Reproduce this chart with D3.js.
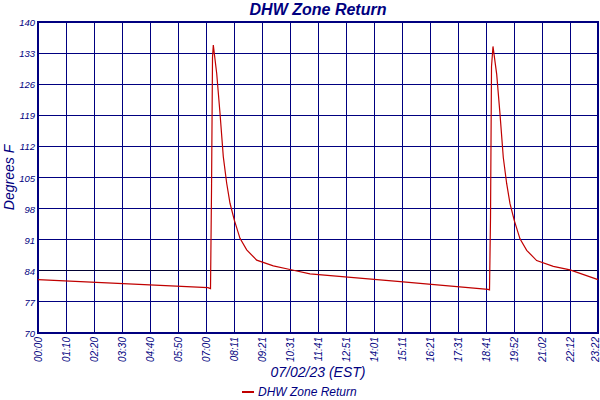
<!DOCTYPE html><html><head><meta charset="utf-8"><script src="https://cdn.jsdelivr.net/npm/d3@7"></script>
<style>body{margin:0;background:#fff}text{font-family:"Liberation Sans",Arial,sans-serif;font-style:italic;fill:#000080}</style></head><body><svg id="c" width="600" height="400"></svg><script>
const minutes=[0,425.6,431.9,434.4,436.9,438.9,447.4,455.7,463.9,472.4,480.7,491.5,505.7,522.5,547.5,589.1,630.9,680.9,900,1126.6,1130.4,1132.9,1135.4,1139.1,1148.4,1156.7,1164.9,1173.4,1181.7,1192.5,1206.7,1223.5,1248.5,1290.1,1331.9,1402];
const temps=[82.0,80.2,80.0,102,132,134.8,128.4,119.4,109.7,103.7,99.2,95.4,91.3,88.7,86.4,85.1,84.3,83.3,81.6,79.8,79.7,96,130,134.5,128.2,119.2,109.5,103.6,99.1,95.3,91.2,88.6,86.3,85.0,84.2,82.0];
const xLabels=["00:00","01:10","02:20","03:30","04:40","05:50","07:00","08:11","09:21","10:31","11:41","12:51","14:01","15:11","16:21","17:31","18:41","19:52","21:02","22:12","23:22"];
const yTicks=[70,77,84,91,98,105,112,119,126,133,140];
const L=38,R=598,T=22,B=333;
const svg=d3.select("#c");
const x=d3.scaleLinear().domain([0,1402]).range([L,R]);
const xi=d3.scaleLinear().domain([0,20]).range([L,R]);
const y=d3.scaleLinear().domain([70,140]).range([B,T]);
const g=svg.append("g").attr("shape-rendering","crispEdges");
xLabels.forEach((l,i)=>{g.append("line").attr("x1",xi(i)).attr("x2",xi(i)).attr("y1",T).attr("y2",B).attr("stroke","#000080").attr("stroke-width",1);
 g.append("text").attr("transform",`translate(${Math.min(xi(i)+4,599)},${B+4}) rotate(-90)`).attr("text-anchor","end").attr("font-size",10).text(l);});
yTicks.forEach(v=>{g.append("line").attr("x1",L).attr("x2",R).attr("y1",y(v)).attr("y2",y(v)).attr("stroke",v===84?"#000033":"#000080").attr("stroke-width",1);
 g.append("text").attr("x",L-3).attr("y",y(v)+4).attr("text-anchor","end").attr("font-size",9.5).text(v);});
g.append("rect").attr("x",L).attr("y",T).attr("width",R-L).attr("height",B-T).attr("fill","none").attr("stroke","#000080").attr("stroke-width",1.5);
const pts=minutes.map((m,i)=>[m,temps[i]]);
svg.append("path").datum(pts).attr("d",d3.line().x(d=>x(d[0])).y(d=>y(d[1]))).attr("fill","none").attr("stroke","#c00000").attr("stroke-width",1.2);
svg.append("text").attr("x",318).attr("y",15).attr("text-anchor","middle").attr("font-size",16).attr("font-weight","bold").text("DHW Zone Return");
svg.append("text").attr("transform",`translate(14,${(T+B)/2}) rotate(-90)`).attr("text-anchor","middle").attr("font-size",14).text("Degrees F");
svg.append("text").attr("x",318).attr("y",377).attr("text-anchor","middle").attr("font-size",14).text("07/02/23 (EST)");
svg.append("line").attr("x1",242).attr("x2",254).attr("y1",392).attr("y2",392).attr("stroke","#c00000").attr("stroke-width",2);
svg.append("text").attr("x",258).attr("y",396).attr("font-size",12).text("DHW Zone Return");
</script></body></html>
